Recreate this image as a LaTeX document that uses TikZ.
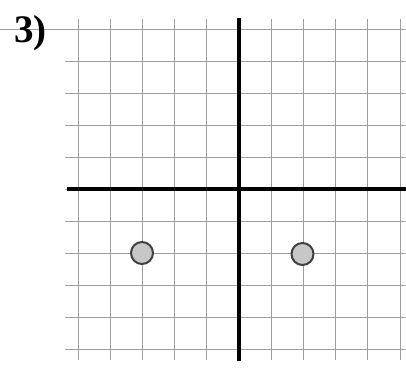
\documentclass[tikz,border=0pt]{standalone}
\usepackage{fontspec}
\setmainfont{Liberation Serif}
\begin{document}
\begin{tikzpicture}[x=1pt,y=-1pt,
  gridline/.style={draw=black!38,line width=0.9pt},
  axisline/.style={draw=black,line width=3.4pt},
  dot/.style={circle,draw=black!75,line width=2pt,fill=black!22,minimum size=22pt,inner sep=0pt}]
\useasboundingbox[fill=white] (0,0) rectangle (406,369);
% horizontal grid lines
\draw[gridline] (0,29) -- (406,29);
\foreach \k in {1,...,10}{
  \draw[gridline] (65,{29+32*\k}) -- (406,{29+32*\k});
}
% vertical grid lines
\foreach \k in {-5,...,5}{
  \draw[gridline] ({239+32.2*\k},19) -- ({239+32.2*\k},360);
}
% axes
\coordinate (xa) at (67,189);
\coordinate (xb) at (406,189);
\coordinate (ya) at (239,18);
\coordinate (yb) at (239,361);
\draw[axisline] (xa) -- (xb);
\draw[axisline] (ya) -- (yb);
% points
\node[dot] (p1) at (142,253) {};
\node[dot] (p2) at (302.5,254) {};
% label
\node[font=\bfseries\fontsize{39}{39}\selectfont,anchor=base west,inner sep=0pt] (lab) at (14,43) {3)};
\end{tikzpicture}
\end{document}
